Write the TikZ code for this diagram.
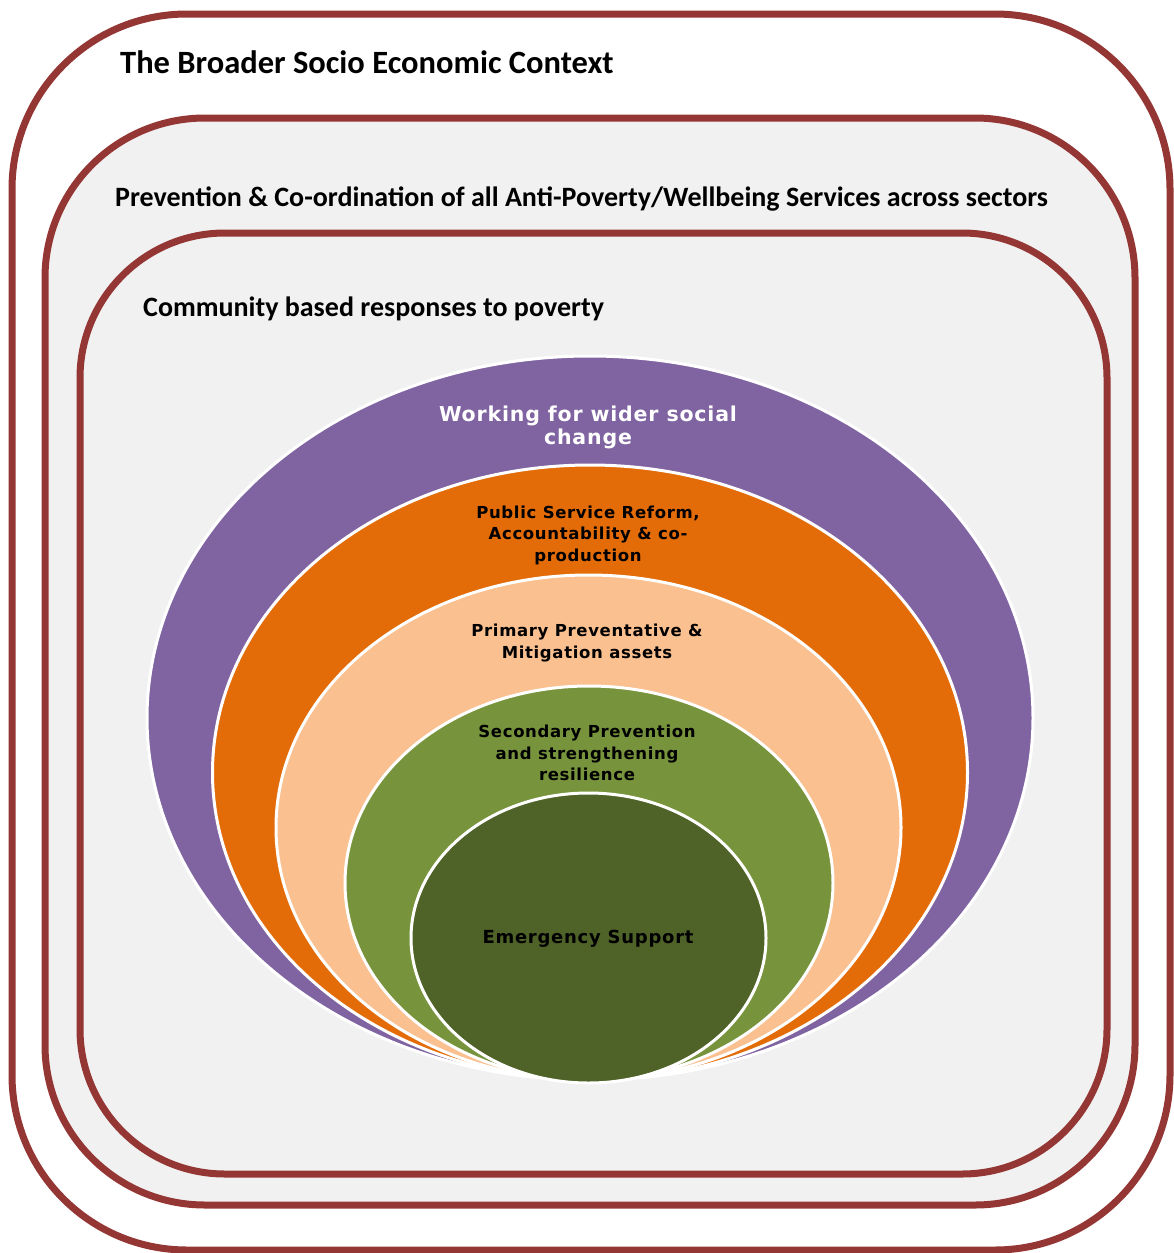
\documentclass[tikz,border=0pt]{standalone}
\usepackage{fontspec}
\setmainfont{Carlito}
\newfontfamily\ringfont[LetterSpace=4]{DejaVu Sans}
\usetikzlibrary{shapes.geometric}
\definecolor{frame}{HTML}{943634}
\definecolor{panel}{HTML}{F1F1F1}
\definecolor{ringpurple}{HTML}{8064A2}
\definecolor{ringorange}{HTML}{E36C09}
\definecolor{ringpeach}{HTML}{FAC090}
\definecolor{ringgreen}{HTML}{77933C}
\definecolor{ringdark}{HTML}{4F6228}

\begin{document}
\begin{tikzpicture}[x=1pt, y=-1pt,
    box/.style={draw=frame, line width=7pt, inner sep=0pt},
    ring/.style={ellipse, draw=white, line width=3pt, inner sep=0pt},
    heading/.style={font=\bfseries\fontsize{28}{32}\selectfont, anchor=west, inner sep=0pt},
    lbl/.style={font=\ringfont\bfseries\fontsize{16.5}{21.5}\selectfont, align=center, inner sep=0pt}]
  \useasboundingbox (0,0) rectangle (1174,1253);

  % nested frames
  \node[box, fill=white, rounded corners=175pt, minimum width=1158pt, minimum height=1236pt] (context) at (591,632) {};
  \node[box, fill=panel, rounded corners=160pt, minimum width=1090pt, minimum height=1087pt] (services) at (590,661.5) {};
  \node[box, fill=panel, rounded corners=145pt, minimum width=1027pt, minimum height=941pt] (community) at (593.5,703.5) {};

  \node[heading, font=\bfseries\fontsize{32.5}{36}\selectfont] (ctxtitle) at (120,62) {The Broader Socio Economic Context};
  \node[heading] (srvtitle) at (115,199.5) {Prevention \& Co-ordination of all Anti-Poverty/Wellbeing Services across sectors};
  \node[heading] (comtitle) at (143,308.5) {Community based responses to poverty};

  % rings, all touching at the bottom
  \node[ring, fill=ringpurple, minimum width=886pt, minimum height=724pt] (social) at (590,718) {};
  \node[ring, fill=ringorange, minimum width=755pt, minimum height=615pt] (reform) at (590,772.5) {};
  \node[ring, fill=ringpeach, minimum width=625pt, minimum height=505pt] (primary) at (588.5,827.5) {};
  \node[ring, fill=ringgreen, minimum width=488pt, minimum height=394pt] (secondary) at (589,883) {};
  \node[ring, fill=ringdark, minimum width=355pt, minimum height=290pt] (emergency) at (588.5,938) {};

  \node[lbl, text=white, font=\ringfont\bfseries\fontsize{20.5}{23}\selectfont] (sociallbl) at (588,427) {Working for wider social\\change};
  \node[lbl] (reformlbl) at (588,535) {Public Service Reform,\\Accountability \& co-\\production};
  \node[lbl] (primarylbl) at (587,643) {Primary Preventative \&\\Mitigation assets};
  \node[lbl] (secondarylbl) at (587,753) {Secondary Prevention\\and strengthening\\resilience};
  \node[lbl, font=\ringfont\bfseries\fontsize{18}{21.5}\selectfont] (emergencylbl) at (588,938.5) {Emergency Support};
\end{tikzpicture}
\end{document}
